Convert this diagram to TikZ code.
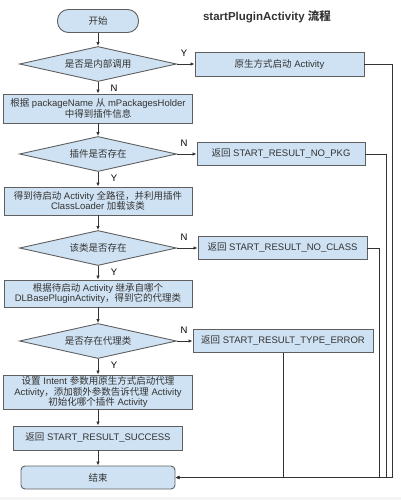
\documentclass[tikz,border=0pt]{standalone}
\usepackage{fontspec}
\setmainfont{Liberation Sans}
\newfontfamily\cjk{Noto Sans CJK SC}
\newcommand\zh[1]{{\cjk #1}}
\usetikzlibrary{shapes.geometric,arrows.meta}
\definecolor{boxfill}{HTML}{CFE2F3}
\definecolor{boxline}{HTML}{5F5F5F}
\definecolor{txt}{HTML}{333333}
\begin{document}
\begin{tikzpicture}[x=1pt,y=1pt,
  font=\fontsize{9.5}{10.5}\selectfont, text=txt,
  box/.style={draw=boxline, fill=boxfill, rectangle, align=center, inner sep=1pt, line width=0.9pt},
  terminal/.style={box, rounded corners=11pt},
  decision/.style={draw=boxline, fill=boxfill, diamond, aspect=4.6, inner sep=0pt, line width=0.9pt, minimum width=157pt, minimum height=35pt},
  flow/.style={draw=txt, line width=0.8pt, -{Latex[length=4pt,width=3.5pt]}},
  lab/.style={inner sep=0pt, text=black}]
\useasboundingbox (0,0) rectangle (401,-500);
\fill[black!4] (0,-497) rectangle (401,-500);

% title
\node (title) at (267,-17) {\bfseries\fontsize{11.5}{13}\selectfont startPluginActivity \zh{流程}};

% main column
\node (start)[terminal, minimum width=81pt, minimum height=23pt] at (98,-21) {\zh{开始}};
\node (inner)[decision, below of=start, node distance=43pt] {\zh{是否是内部调用}};
\node (lookup)[box, minimum width=189pt, minimum height=29pt, below of=inner, node distance=44.5pt] {\zh{根据} packageName \zh{从} mPackagesHolder\\\zh{中得到插件信息}};
\node (haspkg)[decision, below of=lookup, node distance=45.5pt] {\zh{插件是否存在}};
\node (load)[box, minimum width=188pt, minimum height=28pt, below of=haspkg, node distance=47pt] {\zh{得到待启动} Activity \zh{全路径，并利用插件}\\ClassLoader \zh{加载该类}};
\node (hascls)[decision, below of=load, node distance=47pt] {\zh{该类是否存在}};
\node (proxy)[box, minimum width=188pt, minimum height=27pt, below of=hascls, node distance=45.5pt] {\zh{根据待启动} Activity \zh{继承自哪个}\\DLBasePluginActivity\zh{，得到它的代理类}};
\node (hasproxy)[decision, below of=proxy, node distance=47.5pt] {\zh{是否存在代理类}};
\node (intent)[box, minimum width=189pt, minimum height=34pt, below of=hasproxy, node distance=51pt] {\zh{设置} Intent \zh{参数用原生方式启动代理}\\Activity\zh{，添加额外参数告诉代理} Activity\\\zh{初始化哪个插件} Activity};
\node (success)[box, minimum width=169pt, minimum height=24pt, below of=intent, node distance=46pt] {\zh{返回} START\_RESULT\_SUCCESS};
\node (finish)[box, rounded corners=4pt, minimum width=154pt, minimum height=23pt, below of=success, node distance=39.5pt] {\zh{结束}};

% right column
\node (native)[box, minimum width=169pt, minimum height=24pt, right of=inner, node distance=181.5pt] {\zh{原生方式启动} Activity};
\node (nopkg)[box, minimum width=168pt, minimum height=23pt, right of=haspkg, node distance=183pt] {\zh{返回} START\_RESULT\_NO\_PKG};
\node (nocls)[box, minimum width=169pt, minimum height=23pt, right of=hascls, node distance=184.5pt] {\zh{返回} START\_RESULT\_NO\_CLASS};
\node (typeerr)[box, minimum width=180pt, minimum height=23pt, right of=hasproxy, node distance=185pt] {\zh{返回} START\_RESULT\_TYPE\_ERROR};

% Y / N
\node (innery)[lab] at ([xshift=7pt,yshift=11pt]inner.east) {Y};
\node (innern)[lab] at ([xshift=16pt,yshift=-6pt]inner.south) {N};
\node (haspkgn)[lab] at ([xshift=7pt,yshift=11pt]haspkg.east) {N};
\node (haspkgy)[lab] at ([xshift=16pt,yshift=-6pt]haspkg.south) {Y};
\node (hascln)[lab] at ([xshift=7pt,yshift=11pt]hascls.east) {N};
\node (hascly)[lab] at ([xshift=16pt,yshift=-6pt]hascls.south) {Y};
\node (hasproxyn)[lab] at ([xshift=7pt,yshift=11pt]hasproxy.east) {N};
\node (hasproxyy)[lab] at ([xshift=16pt,yshift=-6pt]hasproxy.south) {Y};

% connectors
\draw[flow] (start) -- (inner);
\draw[flow] (inner) -- (lookup);
\draw[flow] (lookup) -- (haspkg);
\draw[flow] (haspkg) -- (load);
\draw[flow] (load) -- (hascls);
\draw[flow] (hascls) -- (proxy);
\draw[flow] (proxy) -- (hasproxy);
\draw[flow] (hasproxy) -- (intent);
\draw[flow] (intent) -- (success);
\draw[flow] (success) -- (finish);
\draw[flow] (inner) -- (native);
\draw[flow] (haspkg) -- (nopkg);
\draw[flow] (hascls) -- (nocls);
\draw[flow] (hasproxy) -- (typeerr);
\draw[flow] (native.east) -- ++(28,0) |- (finish.east);
\draw[flow] (nopkg.east) -- ++(21,0) |- (finish.east);
\draw[flow] (nocls.east) -- ++(12,0) |- (finish.east);
\draw[flow] (typeerr.south) |- (finish.east);
\end{tikzpicture}
\end{document}
